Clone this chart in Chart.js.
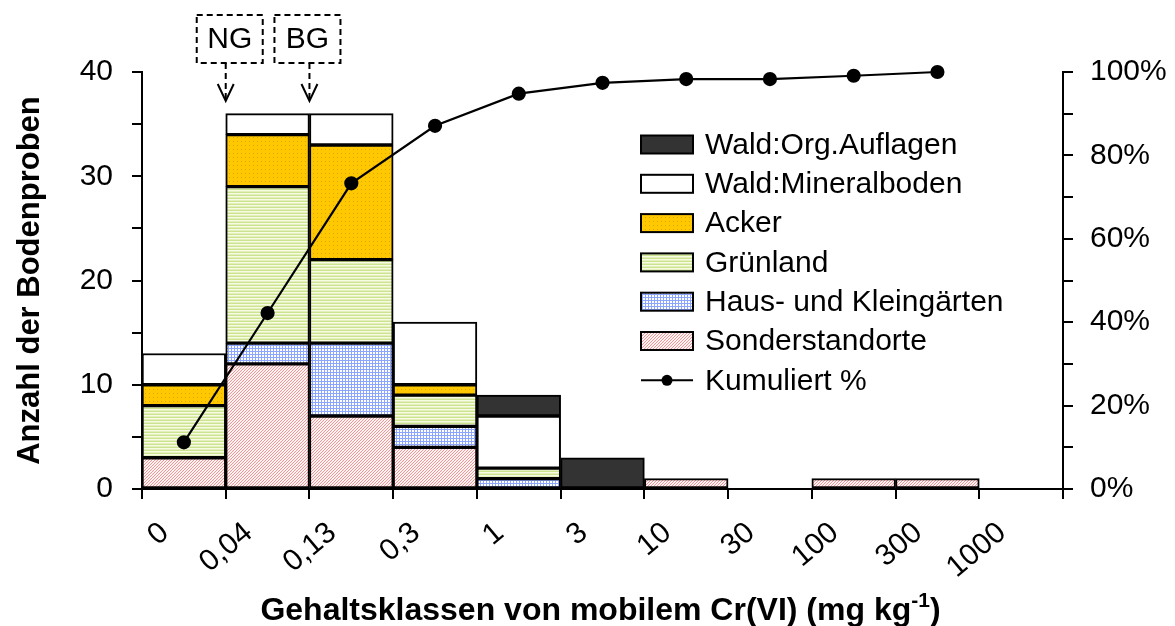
<!DOCTYPE html>
<html lang="de">
<head>
<meta charset="utf-8">
<title>Cr(VI) Gehaltsklassen</title>
<script src="https://cdn.jsdelivr.net/npm/chart.js@4/dist/chart.umd.min.js"></script>
<style>
  html, body { margin: 0; padding: 0; background: #fff; }
  #wrap { width: 1175px; height: 626px; }
</style>
</head>
<body>
<div id="wrap"><canvas id="crChart" width="1175" height="626"></canvas></div>
<script>
// class boundaries (mg/kg), drawn under the tick marks
const classLabels = ['0', '0,04', '0,13', '0,3', '1', '3', '10', '30', '100', '300', '1000'];

// number of samples per class and land use (class i = between boundary i and i+1)
const sonderstandorte = [3, 12, 7, 4, 0, 0, 1, 0, 1, 1];
const hausgaerten     = [0, 2, 7, 2, 1, 0, 0, 0, 0, 0];
const gruenland       = [5, 15, 8, 3, 1, 0, 0, 0, 0, 0];
const acker           = [2, 5, 11, 1, 0, 0, 0, 0, 0, 0];
const waldMineral     = [3, 2, 3, 6, 5, 0, 0, 0, 0, 0];
const waldOrg         = [0, 0, 0, 0, 2, 3, 0, 0, 0, 0];

// cumulative share in %
const kumuliert = [11.2, 42.2, 73.3, 87.1, 94.8, 97.4, 98.3, 98.3, 99.1, 100];

// NG / BG markers sit on these boundaries
const markers = [{ text: 'NG', at: 1, dx: 4 }, { text: 'BG', at: 2, dx: -2 }];

const FONT = '"Liberation Sans", Arial, Helvetica, sans-serif';

// small canvas tiles for the hatch fills
function makePattern(w, h, paint) {
  const c = document.createElement('canvas');
  c.width = w; c.height = h;
  const g = c.getContext('2d');
  paint(g);
  return g.createPattern(c, 'repeat');
}

const patSonder = makePattern(3, 3, g => {
  g.fillStyle = '#fff4f4'; g.fillRect(0, 0, 3, 3);
  g.fillStyle = '#f59494';
  g.fillRect(0, 2, 1, 1); g.fillRect(1, 1, 1, 1); g.fillRect(2, 0, 1, 1);
});
const patHaus = makePattern(3, 3, g => {
  g.fillStyle = '#ffffff'; g.fillRect(0, 0, 3, 3);
  g.fillStyle = '#8ca6ff';
  g.fillRect(0, 0, 3, 1); g.fillRect(0, 0, 1, 3);
});
const patGruen = makePattern(3, 3, g => {
  g.fillStyle = '#cce490'; g.fillRect(0, 0, 3, 1);
  g.fillStyle = '#f7fbe4'; g.fillRect(0, 1, 3, 1);
  g.fillStyle = '#e4f0bc'; g.fillRect(0, 2, 3, 1);
});
const patAcker = makePattern(4, 4, g => {
  g.fillStyle = '#ffc800'; g.fillRect(0, 0, 4, 4);
  g.fillStyle = '#d9a900'; g.fillRect(1, 1, 1, 1);
});

const toPoints = arr => arr.map((v, i) => ({ x: i + 0.5, y: v || null }));

const barSeries = [
  { label: 'Sonderstandorte', data: sonderstandorte, fill: patSonder },
  { label: 'Haus- und Kleingärten', data: hausgaerten, fill: patHaus },
  { label: 'Grünland', data: gruenland, fill: patGruen },
  { label: 'Acker', data: acker, fill: patAcker },
  { label: 'Wald:Mineralboden', data: waldMineral, fill: '#ffffff' },
  { label: 'Wald:Org.Auflagen', data: waldOrg, fill: '#333333' }
];

const datasets = [{
  type: 'line',
  label: 'Kumuliert %',
  data: kumuliert.map((v, i) => ({ x: i + 0.5, y: v })),
  yAxisID: 'y2',
  borderColor: '#000',
  borderWidth: 2.2,
  pointRadius: 6,
  pointBackgroundColor: '#000',
  pointBorderColor: '#000',
  tension: 0,
  clip: false
}].concat(barSeries.map(s => ({
  type: 'bar',
  label: s.label,
  data: toPoints(s.data),
  yAxisID: 'y',
  backgroundColor: s.fill,
  borderColor: '#000',
  borderWidth: 2,
  borderSkipped: false,
  barPercentage: 1,
  categoryPercentage: 1
})));

// legend entries, top to bottom
const legendItems = barSeries.slice().reverse().map(s => ({ label: s.label, fill: s.fill }))
  .concat([{ label: 'Kumuliert %', line: true }]);

const decor = {
  id: 'decor',
  afterDraw(chart) {
    const { ctx, chartArea: a, scales: { x } } = chart;
    ctx.save();
    ctx.fillStyle = '#000';
    ctx.strokeStyle = '#000';

    // rotated class labels
    ctx.font = '30px ' + FONT;
    ctx.textAlign = 'right';
    ctx.textBaseline = 'middle';
    classLabels.forEach((lab, i) => {
      const px = x.getPixelForValue(i);
      ctx.save();
      ctx.translate(px + 23, a.bottom + 40);
      ctx.rotate(-40 * Math.PI / 180);
      ctx.fillText(lab, 0, 0);
      ctx.restore();
    });

    // x title with superscript
    const cx = (a.left + a.right) / 2 - 2, cy = 609;
    const main = 'Gehaltsklassen von mobilem Cr(VI) (mg kg';
    const bold = 'bold 32px ' + FONT, supFont = 'bold 21px ' + FONT;
    ctx.font = bold;
    const w1 = ctx.measureText(main).width, w3 = ctx.measureText(')').width;
    ctx.font = supFont;
    const w2 = ctx.measureText('-1').width;
    let sx = cx - (w1 + w2 + w3) / 2;
    ctx.textAlign = 'left';
    ctx.textBaseline = 'alphabetic';
    const base = cy + 11;
    ctx.font = bold; ctx.fillText(main, sx, base); sx += w1;
    ctx.font = supFont; ctx.fillText('-1', sx, base - 13); sx += w2;
    ctx.font = bold; ctx.fillText(')', sx, base);

    // y title
    ctx.save();
    ctx.translate(30, (a.top + a.bottom) / 2);
    ctx.rotate(-Math.PI / 2);
    ctx.textAlign = 'center';
    ctx.textBaseline = 'middle';
    ctx.font = 'bold 31px ' + FONT;
    ctx.fillText('Anzahl der Bodenproben', 0, 0);
    ctx.restore();

    // NG / BG boxes with dashed arrows
    ctx.font = '30px ' + FONT;
    ctx.textAlign = 'center';
    ctx.textBaseline = 'middle';
    ctx.lineWidth = 2;
    markers.forEach(m => {
      const px = x.getPixelForValue(m.at);
      const bx = px + m.dx, top = 15, h = 48, w = 66;
      ctx.setLineDash([6, 4]);
      ctx.strokeRect(bx - w / 2, top, w, h);
      const tip = a.top + 29;
      ctx.beginPath();
      ctx.moveTo(px, top + h);
      ctx.lineTo(px, tip);
      ctx.stroke();
      ctx.setLineDash([]);
      ctx.beginPath();
      ctx.moveTo(px - 8, tip - 17);
      ctx.lineTo(px, tip);
      ctx.lineTo(px + 8, tip - 17);
      ctx.stroke();
      ctx.fillText(m.text, bx, top + h / 2 + 1);
    });

    // legend inside the plot
    const lx = a.left + 499, ly = 144.5, step = 39.3, bw = 52, bh = 18;
    ctx.font = '30px ' + FONT;
    ctx.textAlign = 'left';
    ctx.textBaseline = 'middle';
    legendItems.forEach((it, i) => {
      const yy = ly + i * step;
      if (it.line) {
        ctx.beginPath();
        ctx.moveTo(lx, yy); ctx.lineTo(lx + bw, yy);
        ctx.stroke();
        ctx.beginPath();
        ctx.arc(lx + bw / 2, yy, 5.5, 0, Math.PI * 2);
        ctx.fill();
      } else {
        ctx.fillStyle = it.fill;
        ctx.fillRect(lx, yy - bh / 2, bw, bh);
        ctx.strokeRect(lx, yy - bh / 2, bw, bh);
      }
      ctx.fillStyle = '#000';
      ctx.fillText(it.label, lx + bw + 12, yy + 1);
    });
    ctx.restore();
  }
};

const axisGrid = { drawOnChartArea: false, drawTicks: true, tickLength: 10, color: '#000', lineWidth: 2, offset: false };
const axisBorder = { display: true, color: '#000', width: 2 };

new Chart('crChart', {
  data: { datasets },
  plugins: [decor],
  options: {
    responsive: false,
    animation: false,
    layout: { padding: { top: 72, left: 0, right: 0, bottom: 0 } },
    plugins: { legend: { display: false }, tooltip: { enabled: false } },
    scales: {
      x: {
        type: 'linear',
        min: 0,
        max: 11,
        offset: false,
        stacked: true,
        ticks: { display: false, stepSize: 1 },
        grid: axisGrid,
        border: axisBorder,
        afterFit: s => { s.height = 137; }
      },
      y: {
        type: 'linear',
        position: 'left',
        min: 0,
        max: 40,
        stacked: true,
        ticks: {
          stepSize: 5,
          autoSkip: false,
          padding: 19,
          color: '#000',
          font: { family: FONT, size: 30 },
          callback: v => (v % 10 === 0 ? v : '')
        },
        grid: axisGrid,
        border: axisBorder,
        afterFit: s => { s.width = 142; }
      },
      y2: {
        type: 'linear',
        position: 'right',
        min: 0,
        max: 100,
        ticks: {
          stepSize: 10,
          autoSkip: false,
          padding: 17,
          color: '#000',
          font: { family: FONT, size: 30 },
          callback: v => (v % 20 === 0 ? v + '%' : '')
        },
        grid: axisGrid,
        border: axisBorder,
        afterFit: s => { s.width = 112; }
      }
    }
  }
});
</script>
</body>
</html>
